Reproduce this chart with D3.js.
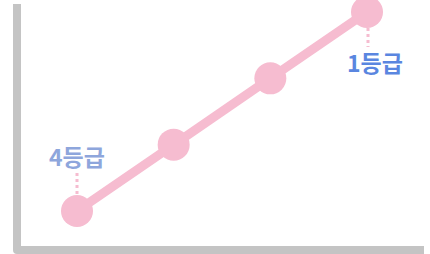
<!DOCTYPE html>
<html>
<head>
<meta charset="utf-8">
<script src="https://cdn.jsdelivr.net/npm/d3@7"></script>
<style>
  html, body { margin: 0; padding: 0; background: #fff; }
  svg { display: block; }
</style>
</head>
<body>
<div class="chart"></div>
<script>
const WIDTH = 430
const HEIGHT = 254

const categories = ['4등급', '3등급', '2등급', '1등급']
const values = [1, 2, 3, 4]
const labelled = ['4등급', '1등급']

const PINK = '#f6bcd0'
const AXIS = '#c4c4c4'

const svg = d3.select('.chart').append('svg')
	.attr('width', WIDTH)
	.attr('height', HEIGHT)

const scaleX = d3.scalePoint()
	.domain(categories)
	.range([77, 367])

const scaleY = d3.scaleLinear()
	.domain([1, 4])
	.range([211, 12])

const data = categories.map((c, i) => ({ cat: c, value: values[i] }))

// axes (thick gray L-frame)
svg.append('path')
	.attr('d', 'M17,4 V250 H424')
	.attr('fill', 'none')
	.attr('stroke', AXIS)
	.attr('stroke-width', 8)
	.attr('stroke-linejoin', 'round')

const line = d3.line()
	.x(d => scaleX(d.cat))
	.y(d => scaleY(d.value))

svg.append('path')
	.datum(data)
	.attr('d', line)
	.attr('fill', 'none')
	.attr('stroke', PINK)
	.attr('stroke-width', 9)

svg.selectAll('.dot')
	.data(data)
	.enter().append('circle')
	.attr('class', 'dot')
	.attr('cx', d => scaleX(d.cat))
	.attr('cy', d => scaleY(d.value))
	.attr('r', 16)
	.attr('fill', PINK)

// labels with dotted leaders
const first = data[0]
const last = data[data.length - 1]
const FONT = '"Noto Sans CJK KR", "Noto Sans", sans-serif'

svg.append('line')
	.attr('x1', scaleX(first.cat)).attr('x2', scaleX(first.cat))
	.attr('y1', scaleY(first.value) - 17).attr('y2', scaleY(first.value) - 38)
	.attr('stroke', PINK)
	.attr('stroke-width', 3)
	.attr('stroke-dasharray', '3,3')

svg.append('text')
	.attr('x', scaleX(first.cat))
	.attr('y', scaleY(first.value) - 45)
	.attr('text-anchor', 'middle')
	.attr('font-family', FONT)
	.attr('font-size', 23)
	.attr('font-weight', 700)
	.attr('fill', '#8ea6dc')
	.text(labelled[0])

svg.append('line')
	.attr('x1', scaleX(last.cat) + 1).attr('x2', scaleX(last.cat) + 1)
	.attr('y1', scaleY(last.value) + 16).attr('y2', scaleY(last.value) + 35)
	.attr('stroke', PINK)
	.attr('stroke-width', 3)
	.attr('stroke-dasharray', '3,3')

svg.append('text')
	.attr('x', scaleX(last.cat) + 8)
	.attr('y', scaleY(last.value) + 60)
	.attr('text-anchor', 'middle')
	.attr('font-family', FONT)
	.attr('font-size', 23)
	.attr('font-weight', 700)
	.attr('fill', '#5a86e0')
	.text(labelled[1])
</script>
</body>
</html>
